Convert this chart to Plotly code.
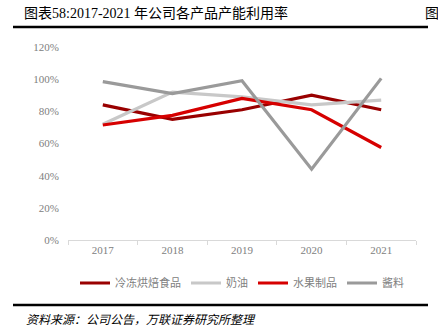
import plotly.graph_objects as go

years = ["2017", "2018", "2019", "2020", "2021"]
frozen_bakery = [84, 75, 81, 90, 81]
cream = [72, 92, 89, 84, 87]
fruit = [71.5, 77.5, 88, 81, 57.5]
sauce = [98.5, 91, 99, 44, 100.5]
series_names = ["冷冻烘焙食品", "奶油", "水果制品", "酱料"]
colors = ["#990000", "#C8C8C8", "#D60000", "#9A9A9A"]

W, H = 438, 329
L, R, T, B = 68, 22, 47, 89
PW, PH = W - L - R, H - T - B

fig = go.Figure()
for name, vals, c in zip(series_names, [frozen_bakery, cream, fruit, sauce], colors):
    fig.add_trace(go.Scatter(x=years, y=vals, name=name, mode="lines",
                             line=dict(color=c, width=3.2)))

serif = "Liberation Serif, Noto Sans CJK SC, serif"
fig.update_layout(
    width=W, height=H,
    margin=dict(l=L, r=R, t=T, b=B),
    paper_bgcolor="white", plot_bgcolor="white",
    font=dict(family=serif, color="#808080", size=11),
    showlegend=True,
    legend=dict(orientation="h", x=0.5, xanchor="center", y=-(283 - (H - B)) / PH, yanchor="middle",
                font=dict(size=11, color="#808080", family=serif),
                bgcolor="rgba(0,0,0,0)", itemwidth=30, tracegroupgap=0),
    xaxis=dict(type="category", range=[-0.5, 4.5], showline=True, linecolor="#D9D9D9", linewidth=1,
               ticks="outside", tickson="boundaries", ticklen=4, tickcolor="#D9D9D9",
               showgrid=False, tickfont=dict(size=11, color="#808080")),
    yaxis=dict(range=[0, 120], dtick=20, ticksuffix="%", showgrid=False, zeroline=False,
               showline=False, ticklabelstandoff=8, tickfont=dict(size=11, color="#808080")),
)

# header title and rules
fig.add_annotation(text="图表58:2017-2021 年公司各产品产能利用率", xref="paper", yref="paper",
                   x=-(L - 22) / PW, y=1 + (T - 13) / PH,
                   xanchor="left", yanchor="middle", showarrow=False,
                   font=dict(size=14, color="#000000", family=serif))
fig.add_annotation(text="图", xref="paper", yref="paper",
                   x=(423 - L) / PW, y=1 + (T - 13) / PH,
                   xanchor="left", yanchor="middle", showarrow=False,
                   font=dict(size=14, color="#000000", family=serif))
fig.add_shape(type="line", xref="paper", yref="paper",
              x0=(13 - L) / PW, x1=(428 - L) / PW,
              y0=1 + (T - 27) / PH, y1=1 + (T - 27) / PH,
              line=dict(color="black", width=2.5))
fig.add_shape(type="line", xref="paper", yref="paper",
              x0=(13 - L) / PW, x1=(428 - L) / PW,
              y0=-(305 - (H - B)) / PH, y1=-(305 - (H - B)) / PH,
              line=dict(color="black", width=2.5))
fig.add_annotation(text="<i>资料来源：公司公告，万联证券研究所整理</i>", xref="paper", yref="paper",
                   x=-(L - 24) / PW, y=-(320 - (H - B)) / PH,
                   xanchor="left", yanchor="middle", showarrow=False,
                   font=dict(size=12, color="#000000", family=serif))

fig.write_html("out.html")
